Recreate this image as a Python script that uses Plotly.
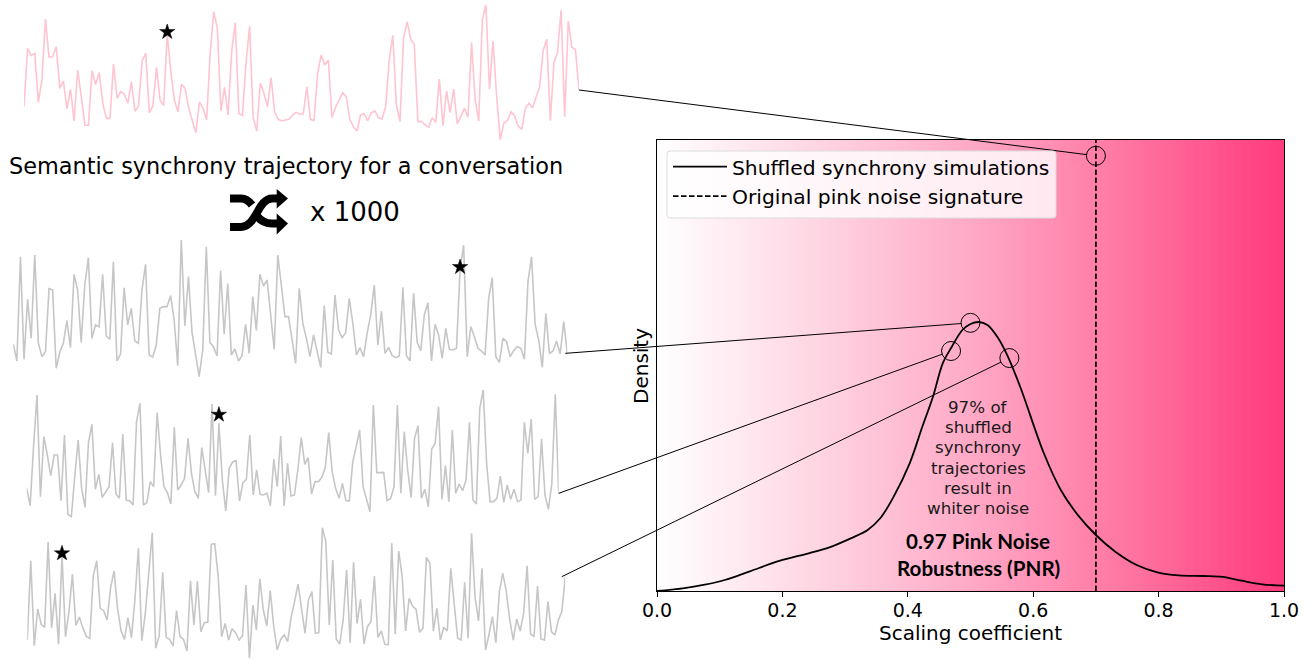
import numpy as np
import plotly.graph_objects as go

W, H = 1308, 659

# ---------- data ----------
pink_trajectory = [110,285,263,270,123,190,372,258,260,290,165,187,104,162,67,220,140,55,54,218,176,212,120,75,75,238,135,155,148,120,185,96,113,248,270,92,112,228,130,113,327,215,130,95,178,165,105,65,32,124,105,70,270,395,345,97,168,85,275,362,90,83,240,352,78,37,180,150,110,197,93,72,67,70,72,85,93,88,
    88,170,72,68,210,265,235,250,78,108,130,152,140,72,50,37,85,88,68,92,97,77,73,110,250,324,115,65,315,365,312,297,65,66,55,48,77,63,193,53,157,92,163,58,80,105,78,303,130,67,372,415,162,307,140,10,60,68,95,83,52,42,105,120,107,137,170,278,312,68,242,272,400,80,367,288,282,160]
shuffled_a = [103,52,365,57,237,120,370,107,65,80,269,265,30,78,105,173,92,312,265,108,280,362,120,160,155,312,127,117,350,52,73,272,160,210,112,105,265,342,70,64,100,210,215,215,248,175,38,415,157,305,138,75,5,85,395,108,95,67,323,133,284,70,88,52,68,162,75,245,144,312,277,295,185,87,370,280,185,185,115,45,270,
    165,120,65,130,85,33,218,78,73,250,145,122,137,240,165,70,92,65,135,190,280,100,202,75,93,68,62,67,273,68,52,256,108,83,190,227,52,162,130,60,150,87,85,90,325,400,65,155,125,90,82,70,240,302,65,48,120,110,65,83,95,90,57,290,365,162,115,33,194,74,82,112,73,170,75]
shuffled_b = [105,53,230,385,80,260,205,143,205,205,68,265,27,20,140,250,105,48,243,297,102,147,78,93,110,242,88,75,268,70,68,55,305,360,55,62,125,110,332,205,110,92,58,288,100,115,135,255,150,95,75,227,155,92,358,83,300,130,37,165,184,188,67,122,132,265,85,160,87,85,90,53,192,110,262,52,180,82,85,
    160,257,177,197,88,125,125,138,168,272,155,105,75,120,68,67,185,230,280,110,70,35,355,152,152,153,68,74,108,355,90,275,160,78,255,293,75,102,50,223,240,350,72,173,65,280,90,118,98,130,303,70,58,345,400,180,65,65,75,142,63,115,72,102,65,70,303,210,313,72,80,253,85,42,120,387,90]
shuffled_c = [70,308,53,163,117,108,365,107,210,57,325,80,155,267,114,139,107,81,75,262,308,165,158,130,227,277,165,98,72,137,77,190,345,68,150,280,392,45,83,273,78,72,52,158,80,72,37,248,115,247,95,122,124,357,359,260,80,120,70,104,92,70,82,235,15,175,100,254,160,112,218,110,40,72,86,65,138,185,238,
    165,90,190,215,90,92,407,365,115,310,73,58,130,280,62,303,120,192,58,110,125,262,78,97,57,56,360,87,337,260,97,195,172,162,93,105,318,300,97,165,70,108,97,285,177,75,70,243,75,390,198,127,285,40,85,140,62,215,270,215,130,70,133,97,150,293,88,80,232,73,70,185,95,85,130,155,260]
star_steps = [40, 125, 56, 10]
star_values = [334, 334, 326, 330]

scaling_coefficient = [0,.041,.074,.108,.148,.195,.242,.275,.309,.336,.356,.376,.403,.423,.44,.456,.47,.487,.5,.513,.527,.544,.56,.58,.617,.644,.671,.7,.731,.765,.798,.832,.872,.902,.932,.965,1]
density = [0,.042,.094,.172,.308,.469,.589,.683,.823,.953,1.136,1.448,1.995,2.563,3.031,3.563,3.813,4.078,4.172,4.203,4.156,3.953,3.656,3.172,2.152,1.578,1.19,.875,.614,.406,.292,.245,.234,.219,.161,.105,.083]
pink_signature = 0.70
circle_x = [0.70, 0.50, 0.469, 0.562]
circle_y = [6.80, 4.19, 3.75, 3.64]
x_ticks = [0, 0.2, 0.4, 0.6, 0.8, 1.0]
gradient_x = [0, 0.25, 0.5, 0.75, 1]
legend_labels = ["Shuffled synchrony simulations", "Original pink noise signature"]
note_lines = ["97% of", "shuffled", "synchrony", "trajectories", "result in", "whiter noise"]
# -------------------------------------------------

FONT = "DejaVu Sans"
PLOT = dict(l=657, r=1284, t=140, b=591)
Y_MAX = (PLOT["b"] - PLOT["t"]) / 64
PANELS = [  # series, colour, left, right, top, low, leader offset
    (pink_trajectory, "#ffc4d0", 24, 579, 0, 10, 0),
    (shuffled_a, "#c6c6c6", 13.3, 567.3, 235, 0, -2),
    (shuffled_b, "#c6c6c6", 26.7, 558.7, 380, 10, 0),
    (shuffled_c, "#c6c6c6", 27.3, 565.3, 520, 15, -3.5),
]
Y_HI = 430

fx = lambda v: v * 1.0 / W
fy = lambda v: 1 - v * 1.0 / H


def main_px(x, y):
    return (PLOT["l"] + x * (PLOT["r"] - PLOT["l"]),
            PLOT["b"] - y / Y_MAX * (PLOT["b"] - PLOT["t"]))


fig = go.Figure()

# gradient background and density curve
fig.add_trace(go.Heatmap(x=gradient_x, y=[0, Y_MAX], z=[gradient_x, gradient_x], zsmooth="best",
                         zmin=0, zmax=1, showscale=False, hoverinfo="skip",
                         colorscale=[[0, "#ffffff"], [0.25, "#ffd6e3"], [0.5, "#ffa9c6"], [0.75, "#ff75a2"], [1, "#ff3a7d"]]))
fig.add_trace(go.Scatter(x=scaling_coefficient, y=density, mode="lines", name=legend_labels[0],
                         line=dict(color="black", width=1.8, shape="spline", smoothing=1.0)))
fig.add_trace(go.Scatter(x=[pink_signature, pink_signature], y=[0, Y_MAX], mode="lines", name=legend_labels[1],
                         line=dict(color="black", width=1.7, dash="5.5px,2.5px")))
fig.add_trace(go.Scatter(x=circle_x, y=circle_y, mode="markers", showlegend=False, cliponaxis=False,
                         marker=dict(symbol="circle-open", size=19, color="black", line=dict(color="black", width=1))))

layout_axes = {}
ends = []
for i, (series, colour, left, right, top, low, lead) in enumerate(PANELS):
    n = i + 2
    height = (Y_HI - low) / 3
    layout_axes[f"xaxis{n}"] = dict(domain=[fx(left), fx(right)], range=[0, len(series) - 1], visible=False, anchor=f"y{n}")
    layout_axes[f"yaxis{n}"] = dict(domain=[fy(top + height), fy(top)], range=[low, Y_HI], visible=False, anchor=f"x{n}")
    fig.add_trace(go.Scatter(x=list(range(len(series))), y=series, mode="lines", showlegend=False, cliponaxis=False,
                             xaxis=f"x{n}", yaxis=f"y{n}", line=dict(color=colour, width=1.6)))
    fig.add_trace(go.Scatter(x=[star_steps[i]], y=[star_values[i]], mode="markers", showlegend=False, cliponaxis=False,
                             xaxis=f"x{n}", yaxis=f"y{n}",
                             marker=dict(symbol="star", size=11.5, color="black", line=dict(color="black", width=0.5))))
    ends.append((right + lead, top + (Y_HI - series[-1]) / 3))

# leader lines: from the end of each trajectory to the rim of its circle
R = 9
for (ex, ey), cx, cy in zip(ends, circle_x, circle_y):
    px, py = main_px(cx, cy)
    d = np.hypot(px - ex, py - ey)
    fig.add_trace(go.Scatter(x=[ex, px - (px - ex) * R / d], y=[ey, py - (py - ey) * R / d], mode="lines",
                             showlegend=False, xaxis="x6", yaxis="y6", cliponaxis=False,
                             line=dict(color="black", width=1)))

# shuffle icon
ICON = [
    "M 230 227 H 241 C 256 227 258 198.5 272 198.5 H 278",
    "M 230 198.5 H 241 C 246 198.5 249 201 252 205",
    "M 257 216 C 261 221 266 223.5 272 223.5 H 278",
]
shapes = [dict(type="path", xref="x6", yref="y6", path=p, line=dict(color="black", width=8)) for p in ICON]
shapes += [dict(type="path", xref="x6", yref="y6", path=p, fillcolor="black", line=dict(color="black", width=0))
           for p in ["M 276.7 189 L 288 198.5 L 276.7 208.5 Z", "M 276.7 213.5 L 288 223.5 L 276.7 234.5 Z"]]
# rounded legend frame
shapes.append(dict(type="path", xref="x6", yref="y6", fillcolor="rgba(255,255,255,0.8)",
                   line=dict(color="#dcdcdc", width=1),
                   path="M 670 151 H 1053 Q 1056 151 1056 154 V 215 Q 1056 218 1053 218 H 670 Q 667 218 667 215 V 154 Q 667 151 670 151 Z"))

def label(text, x, y, size, color="black", family=FONT, **kw):
    return dict(text=text, x=x, y=y, xref="x6", yref="y6", showarrow=False, xanchor="center", yanchor="middle",
                font=dict(size=size, color=color, family=family), **kw)

annotations = [
    label("Semantic synchrony trajectory for a conversation", 285.5, 166, 22.4),
    label("x 1000", 354.5, 212, 26),
    label("<b>0.97 Pink Noise</b>", 978, 541, 20.6, family="Lato"),
    label("<b>Robustness (PNR)</b>", 978, 568, 20.6, family="Lato"),
    label("Density", 641, 366, 20, textangle=-90),
]
annotations += [label(t, 978, 407 + 20.2 * k, 16.7, color="#1a1a1a") for k, t in enumerate(note_lines)]

fig.update_layout(
    width=W, height=H, margin=dict(l=0, r=0, t=0, b=0, autoexpand=False), paper_bgcolor="white", plot_bgcolor="rgba(0,0,0,0)",
    font=dict(family=FONT, color="black"),
    xaxis=dict(domain=[fx(PLOT["l"]), fx(PLOT["r"])], range=[0, 1], tickvals=x_ticks, tickformat=".1f", ticks="outside",
               ticklen=5, tickwidth=1, tickcolor="black", showline=True, linecolor="black", linewidth=1, mirror=True,
               showgrid=False, zeroline=False, tickfont=dict(size=19, family=FONT), ticklabelstandoff=-3,
               title=dict(text="Scaling coefficient", font=dict(size=20, family=FONT), standoff=4), anchor="y"),
    yaxis=dict(domain=[fy(PLOT["b"]), fy(PLOT["t"])], range=[0, Y_MAX], showticklabels=False, ticks="", showline=True,
               linecolor="black", linewidth=1, mirror=True, showgrid=False, zeroline=False, anchor="x"),
    xaxis6=dict(domain=[0, 1], range=[0, W], visible=False, anchor="y6"),
    yaxis6=dict(domain=[0, 1], range=[H, 0], visible=False, anchor="x6"),
    legend=dict(x=fx(668), y=fy(147), xanchor="left", yanchor="top", bgcolor="rgba(0,0,0,0)",
                borderwidth=0, font=dict(size=20.3, family=FONT), itemwidth=54, traceorder="normal"),
    shapes=shapes, annotations=annotations, showlegend=True, hovermode=False,
    **layout_axes,
)

fig.write_html("out.html", config={"displayModeBar": False},
               post_script="document.body.style.margin='0';document.documentElement.style.overflow='hidden';")
